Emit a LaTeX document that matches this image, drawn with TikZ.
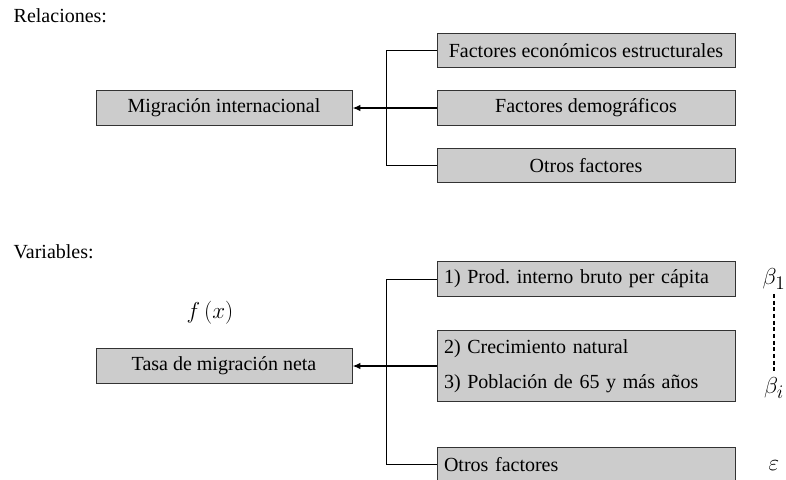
\documentclass[tikz,border=0pt]{standalone}
\usepackage{fontspec}
\setmainfont{Liberation Serif}
\usetikzlibrary{arrows.meta}
\frenchspacing

\begin{document}
\begin{tikzpicture}[
  x=0.75pt, y=-0.75pt,
  factorbox/.style={rectangle,draw=black!80,fill=black!20,line width=0.7pt,
    minimum width=223.5pt,minimum height=26pt,inner sep=0pt,
    font=\fontsize{15}{17}\selectfont},
  leftbox/.style={factorbox,align=left,text width=213pt},
  targetbox/.style={factorbox,minimum width=192pt},
  sectlabel/.style={anchor=west,font=\fontsize{15}{17}\selectfont},
  coeflabel/.style={font=\fontsize{19}{22}\selectfont},
  bracketline/.style={black,line width=0.7pt},
  mainarrow/.style={-{Latex[length=6pt,width=5pt]},line width=1.4pt},
]
\useasboundingbox (0,0) rectangle (786,479);

% Relaciones
\node[sectlabel] (rel) at (9,16) {Relaciones:};
\node[targetbox] (mig) at (224,108) {Migración internacional};
\node[factorbox] (econ) at (586,50.5) {Factores económicos estructurales};
\node[factorbox] (demo) at (586,108) {Factores demográficos};
\node[factorbox] (otros) at (586,165.5) {Otros factores};

\draw[bracketline] (econ.west) -- ++(-50,0) |- (otros.west);
\draw[mainarrow] (demo.west) -- (mig.east);

% Variables
\node[sectlabel] (var) at (9,252) {Variables:};
\node[coeflabel,font=\fontsize{17}{20}\selectfont] (fx) at (210,313) {$f\,(x)$};
\node[targetbox] (tasa) at (224,366) {Tasa de migración neta};
\node[leftbox] (pib) at (586,279) {1) Prod. interno bruto per cápita};
\node[leftbox,minimum height=53.25pt] (crec) at (586,366)
  {2) Crecimiento natural\\[9pt]3) Población de 65 y más años};
\node[leftbox] (otrosv) at (586,464.5) {Otros factores};

\draw[bracketline] (pib.west) -- ++(-50,0) |- (otrosv.west);
\draw[mainarrow] (crec.west) -- (tasa.east);

% Coeficientes
\node[coeflabel] (b1) at (774,279) {$\beta_1$};
\node[coeflabel] (bi) at (774,388) {$\beta_i$};
\node[coeflabel] (eps) at (774,466) {$\varepsilon$};
\draw[dash pattern=on 3pt off 2pt,line width=0.8pt] (b1.south) -- (bi.north);

\end{tikzpicture}
\end{document}
